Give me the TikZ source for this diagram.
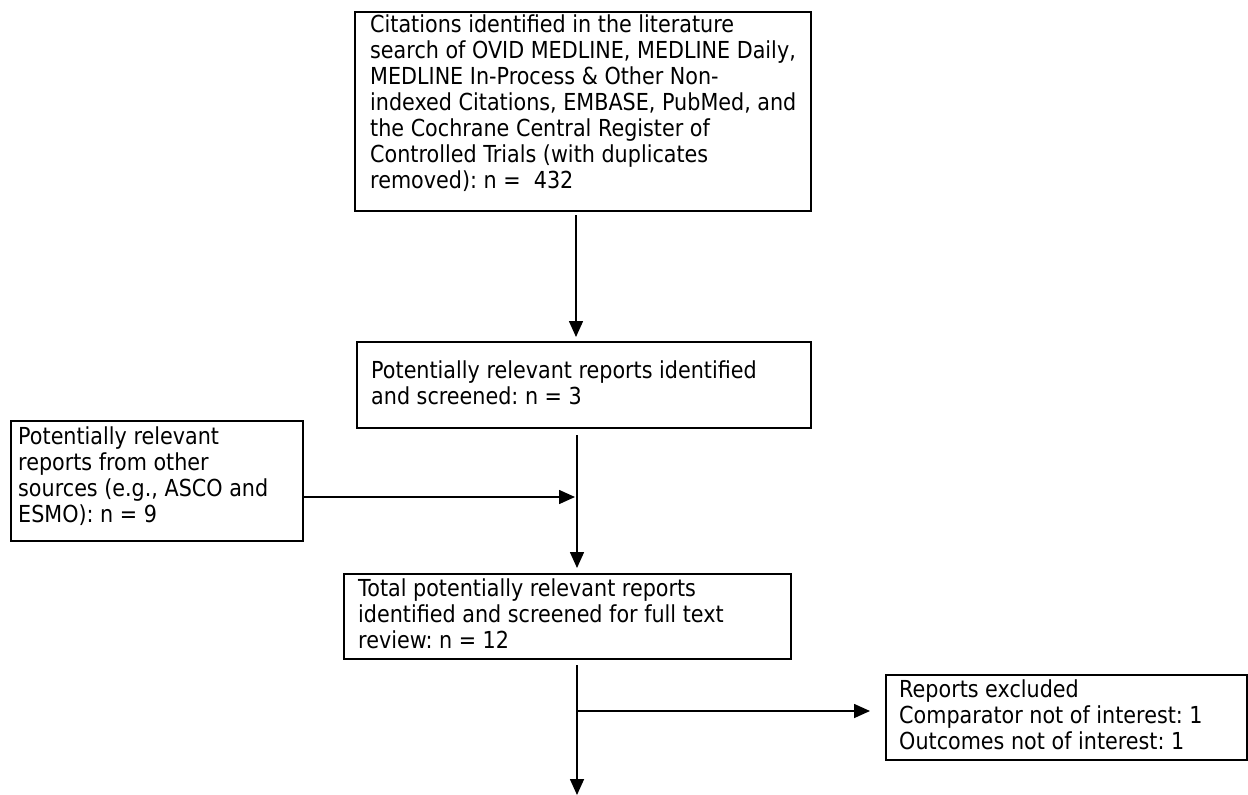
\documentclass[tikz,border=0pt]{standalone}
\usepackage{fontspec}
\setmainfont{DejaVu Sans}[FakeStretch=0.885]
\usetikzlibrary{arrows.meta}
\begin{document}
\frenchspacing
\begin{tikzpicture}[x=1pt,y=-1pt,
  frame/.style={draw, line width=2pt, inner sep=0pt, anchor=north west},
  txt/.style={inner sep=0pt, anchor=north west, align=left,
    font=\fontsize{23.4}{26}\selectfont},
  arr/.style={line width=1.6pt, -{Triangle[length=16pt,width=14pt]}}]
\useasboundingbox (0,0) rectangle (1248,795);
% boxes (frames)
\node[frame, minimum width=456pt, minimum height=199pt] (top) at (354,11) {};
\node[frame, minimum width=454pt, minimum height=86pt] (b2) at (356,341) {};
\node[frame, minimum width=292pt, minimum height=120pt] (lb) at (10,420) {};
\node[frame, minimum width=447pt, minimum height=85pt] (b3) at (343,573) {};
\node[frame, minimum width=361pt, minimum height=85pt] (ex) at (885,674) {};
% texts
\node[txt] (topt) at (370,13.8)
 {\strut Citations identified in the literature\\
  search of OVID MEDLINE, MEDLINE Daily,\\
  MEDLINE In-Process \& Other Non-\\
  indexed Citations, EMBASE, PubMed, and\\
  the Cochrane Central Register of\\
  Controlled Trials (with duplicates\\
  removed): n = \ 432};
\node[txt] (b2t) at (371,359.8)
 {\strut Potentially relevant reports identified\\
  and screened: n = 3};
\node[txt] (lbt) at (18,425.8)
 {\strut Potentially relevant\\
  reports from other\\
  sources (e.g., ASCO and\\
  ESMO): n = 9};
\node[txt] (b3t) at (358,577.8)
 {\strut Total potentially relevant reports\\
  identified and screened for full text\\
  review: n = 12};
\node[txt] (ext) at (899,678.8)
 {\strut Reports excluded\\
  Comparator not of interest: 1\\
  Outcomes not of interest: 1};
% helper coordinates
\coordinate (c1) at (576,300);
\coordinate (c2) at (577,497);
\coordinate (c3) at (577,711);
\coordinate (fin) at (577,795);
% connectors
\draw[arr, shorten <=3pt, shorten >=4pt] (c1 |- top.south) -- (c1 |- b2.north);
\draw[arr, shorten <=6pt, shorten >=5pt] (c2 |- b2.south) -- (c2 |- b3.north);
\draw[arr, shorten >=2pt] (lb.east |- c2) -- (c2);
\draw[arr, shorten <=5pt] (c3 |- b3.south) -- (fin);
\draw[arr, shorten >=15pt] (c3) -- (c3 -| ex.west);
\end{tikzpicture}
\end{document}
